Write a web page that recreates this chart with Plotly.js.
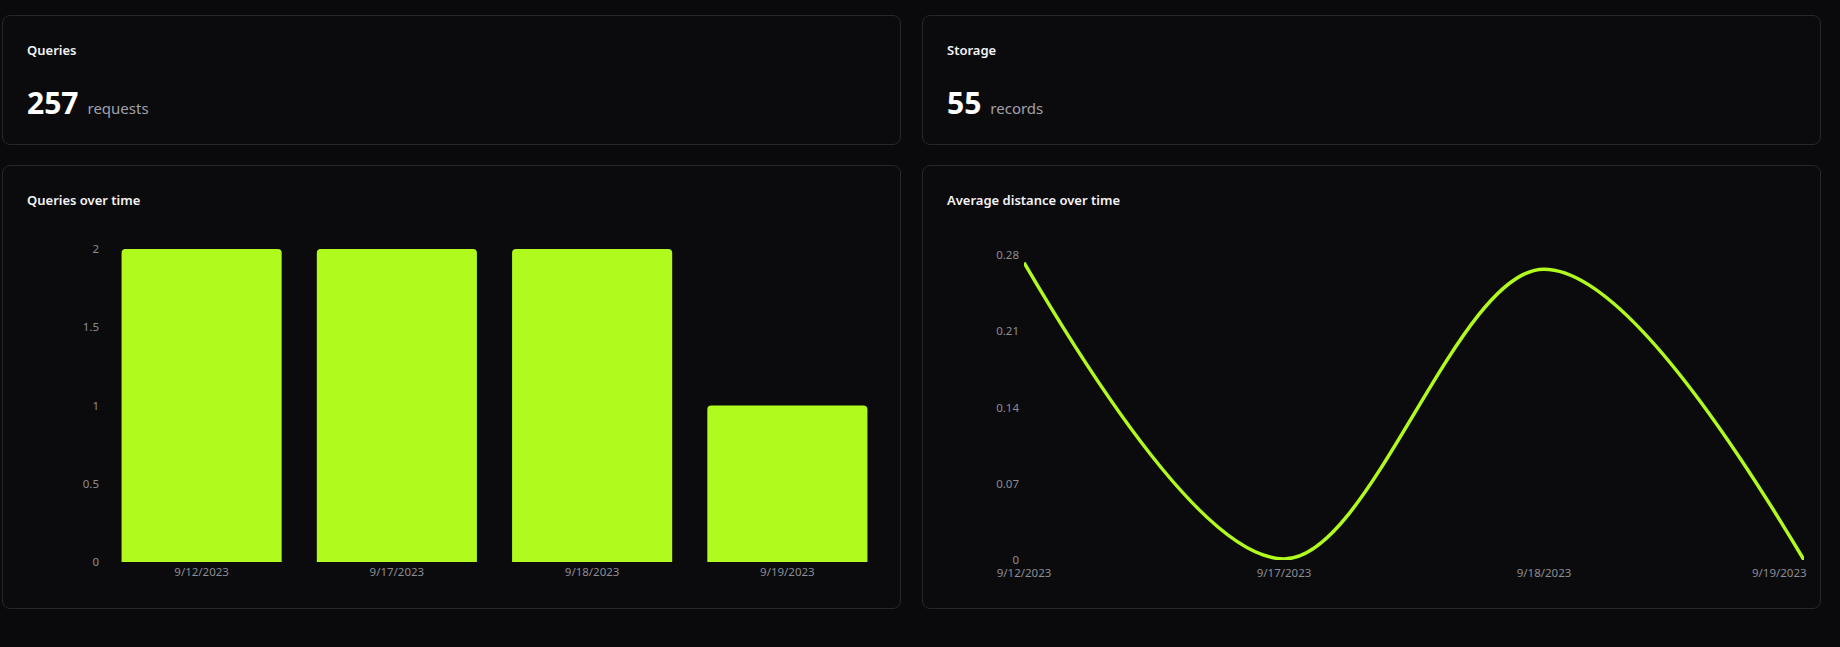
<!DOCTYPE html>
<html>
<head>
<meta charset="utf-8">
<script src="https://cdn.plot.ly/plotly-3.0.1.min.js"></script>
<style>
  html, body {
    margin: 0;
    padding: 0;
    background: #0a0a0c;
    width: 1840px;
    height: 647px;
    overflow: hidden;
    font-family: 'Noto Sans', 'Open Sans', sans-serif;
  }
  .card {
    position: absolute;
    box-sizing: border-box;
    border: 1px solid #27272b;
    border-radius: 8px;
    background: #0b0b0d;
  }
  .title {
    position: absolute;
    left: 24px;
    color: #f4f4f5;
    font-size: 13px;
    font-weight: 600;
  }
  .metric {
    position: absolute;
    left: 24px;
    top: 66px;
    white-space: nowrap;
  }
  .metric .num {
    color: #ffffff;
    font-size: 30px;
    font-weight: 700;
  }
  .metric .unit {
    color: #a1a1aa;
    font-size: 15px;
    margin-left: 9px;
  }
  .chart {
    position: absolute;
  }
</style>
</head>
<body>

<div class="card" style="left:2px; top:15px; width:899px; height:130px;">
  <div class="title" style="top:25px;">Queries</div>
  <div class="metric"><span class="num" id="queriesNum"></span><span class="unit">requests</span></div>
</div>

<div class="card" style="left:922px; top:15px; width:899px; height:130px;">
  <div class="title" style="top:25px;">Storage</div>
  <div class="metric"><span class="num" id="storageNum"></span><span class="unit">records</span></div>
</div>

<div class="card" style="left:2px; top:165px; width:899px; height:444px;">
  <div class="title" style="top:25px;">Queries over time</div>
</div>

<div class="card" style="left:922px; top:165px; width:899px; height:444px;">
  <div class="title" style="top:25px;">Average distance over time</div>
</div>

<div id="bars" class="chart" style="left:2px; top:230px; width:899px; height:370px;"></div>
<div id="line" class="chart" style="left:922px; top:230px; width:899px; height:370px;"></div>

<script>
var totalQueries = 257;
var totalRecords = 55;

var dates = ['9/12/2023', '9/17/2023', '9/18/2023', '9/19/2023'];
var queryCounts = [2, 2, 2, 1];
var avgDistance = [0.273, 0.001, 0.267, 0];

var queryTicks = [0, 0.5, 1, 1.5, 2];
var distanceTicks = [0, 0.07, 0.14, 0.21, 0.28];

document.getElementById('queriesNum').textContent = totalQueries;
document.getElementById('storageNum').textContent = totalRecords;

var lime = '#b0fa1e';
var tickFont = {
  color: '#8b8d94',
  size: 11.5,
  family: 'Noto Sans, Open Sans, sans-serif'
};

var barTrace = {
  x: dates,
  y: queryCounts,
  type: 'bar',
  marker: {
    color: lime,
    cornerradius: 4
  },
  hoverinfo: 'x+y'
};

var barLayout = {
  width: 899,
  height: 370,
  margin: {
    l: 102,
    r: 16,
    t: 19,
    b: 38
  },
  paper_bgcolor: 'rgba(0,0,0,0)',
  plot_bgcolor: 'rgba(0,0,0,0)',
  bargap: 0.18,
  showlegend: false,
  xaxis: {
    type: 'category',
    showgrid: false,
    zeroline: false,
    showline: false,
    ticks: '',
    ticklabelstandoff: 1,
    tickfont: tickFont
  },
  yaxis: {
    range: [0, 2],
    tickmode: 'array',
    tickvals: queryTicks,
    ticktext: queryTicks.map(String),
    showgrid: false,
    zeroline: false,
    showline: false,
    ticks: '',
    ticklabelstandoff: 4,
    tickfont: tickFont
  }
};

// dates sit on a linear index axis so the last label can be nudged inward
var dateIndex = dates.map(function (d, i) { return i; });
var dateTickPos = dateIndex.map(function (i) {
  return i === dates.length - 1 ? i - 0.095 : i;
});

var lineTrace = {
  x: dateIndex,
  y: avgDistance,
  text: dates,
  type: 'scatter',
  mode: 'lines',
  cliponaxis: false,
  line: {
    color: lime,
    width: 3.5,
    shape: 'spline',
    smoothing: 1
  },
  hovertemplate: '%{text}<br>%{y}<extra></extra>'
};

var lineLayout = {
  width: 899,
  height: 370,
  margin: {
    l: 102,
    r: 17,
    t: 25,
    b: 40
  },
  paper_bgcolor: 'rgba(0,0,0,0)',
  plot_bgcolor: 'rgba(0,0,0,0)',
  showlegend: false,
  xaxis: {
    range: [0, dates.length - 1],
    tickmode: 'array',
    tickvals: dateTickPos,
    ticktext: dates,
    showgrid: false,
    zeroline: false,
    showline: false,
    ticks: '',
    ticklabelstandoff: 4,
    tickfont: tickFont
  },
  yaxis: {
    range: [0, 0.28],
    tickmode: 'array',
    tickvals: distanceTicks,
    ticktext: distanceTicks.map(String),
    showgrid: false,
    zeroline: false,
    showline: false,
    ticks: '',
    ticklabelstandoff: 4,
    tickfont: tickFont
  }
};

var config = {responsive: false, displayModeBar: false};

Plotly.newPlot('bars', [barTrace], barLayout, config);
Plotly.newPlot('line', [lineTrace], lineLayout, config);
</script>
</body>
</html>
